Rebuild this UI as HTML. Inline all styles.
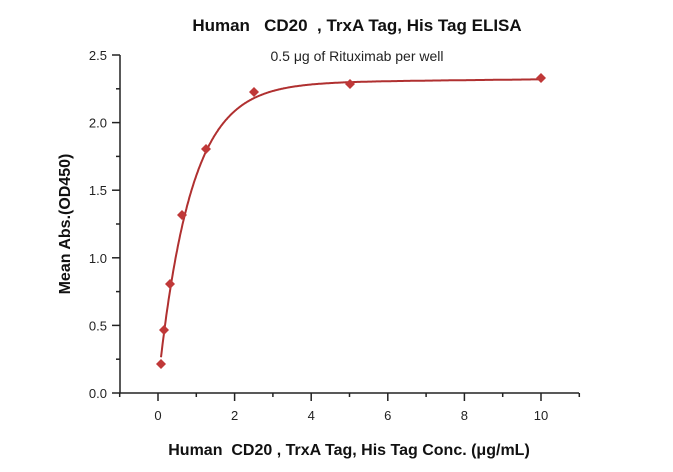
<!DOCTYPE html>
<html><head><style>body{margin:0;background:#fff}svg{display:block}text{font-family:"Liberation Sans",sans-serif;white-space:pre}</style></head>
<body>
<svg id="s" width="673" height="472" xmlns="http://www.w3.org/2000/svg">
<text x="357" y="31" font-size="17" font-weight="bold" text-anchor="middle" fill="#111">Human   CD20  , TrxA Tag, His Tag ELISA</text>
<text x="357" y="61" font-size="14" text-anchor="middle" fill="#222">0.5 μg of Rituximab per well</text>
<g stroke="#222" stroke-width="1.5" fill="none" id="ax">
<path d="M120,55 V393 H579"/>
</g>
<g font-size="13" fill="#222" id="lbl"></g>
<text transform="translate(70,224) rotate(-90)" font-size="16" font-weight="bold" text-anchor="middle" fill="#111">Mean Abs.(OD450)</text>
<text x="349" y="455" font-size="16" font-weight="bold" text-anchor="middle" fill="#111">Human  CD20 , TrxA Tag, His Tag Conc. (μg/mL)</text>
<polyline id="c" fill="none" stroke="#b03030" stroke-width="2"/>
<g id="pts" fill="#c03838"></g>
</svg>
<script>
var X=function(v){return 158+v*38.3},Y=function(v){return 393-v*135.2};
var ax=document.getElementById('ax'),lb=document.getElementById('lbl'),h='';
for(var i=-1;i<=11;i++){var M=i%2==0;h+='<path d="M'+X(i)+',393 v'+(M?8:4)+'"/>';}
for(var j=0;j<=10;j++){var M=j%2==0;h+='<path d="M120,'+Y(j*0.25)+' h-'+(M?8:4)+'"/>';}
ax.innerHTML+=h;h='';
for(var i=0;i<=10;i+=2)h+='<text x="'+X(i)+'" y="420" text-anchor="middle">'+i+'</text>';
for(var j=0;j<=5;j++)h+='<text x="107" y="'+(Y(j*0.5)+5)+'" text-anchor="end">'+(j*0.5).toFixed(1)+'</text>';
lb.innerHTML=h;
var p=[];for(var x=0.078;x<=10.001;x+=0.02){var y=2.29+0.003*x-2.22*Math.exp(-x/0.85);p.push(X(x).toFixed(1)+','+Y(y).toFixed(1));}
document.getElementById('c').setAttribute('points',p.join(' '));
var d=[[161,364],[164,330],[170,284],[182,215],[206,149],[254,92],[350,84],[541,78]];h='';
d.forEach(function(q){h+='<path d="M'+q[0]+','+(q[1]-5)+' l5,5 l-5,5 l-5,-5z"/>';});
document.getElementById('pts').innerHTML=h;
</script>
</body></html>
